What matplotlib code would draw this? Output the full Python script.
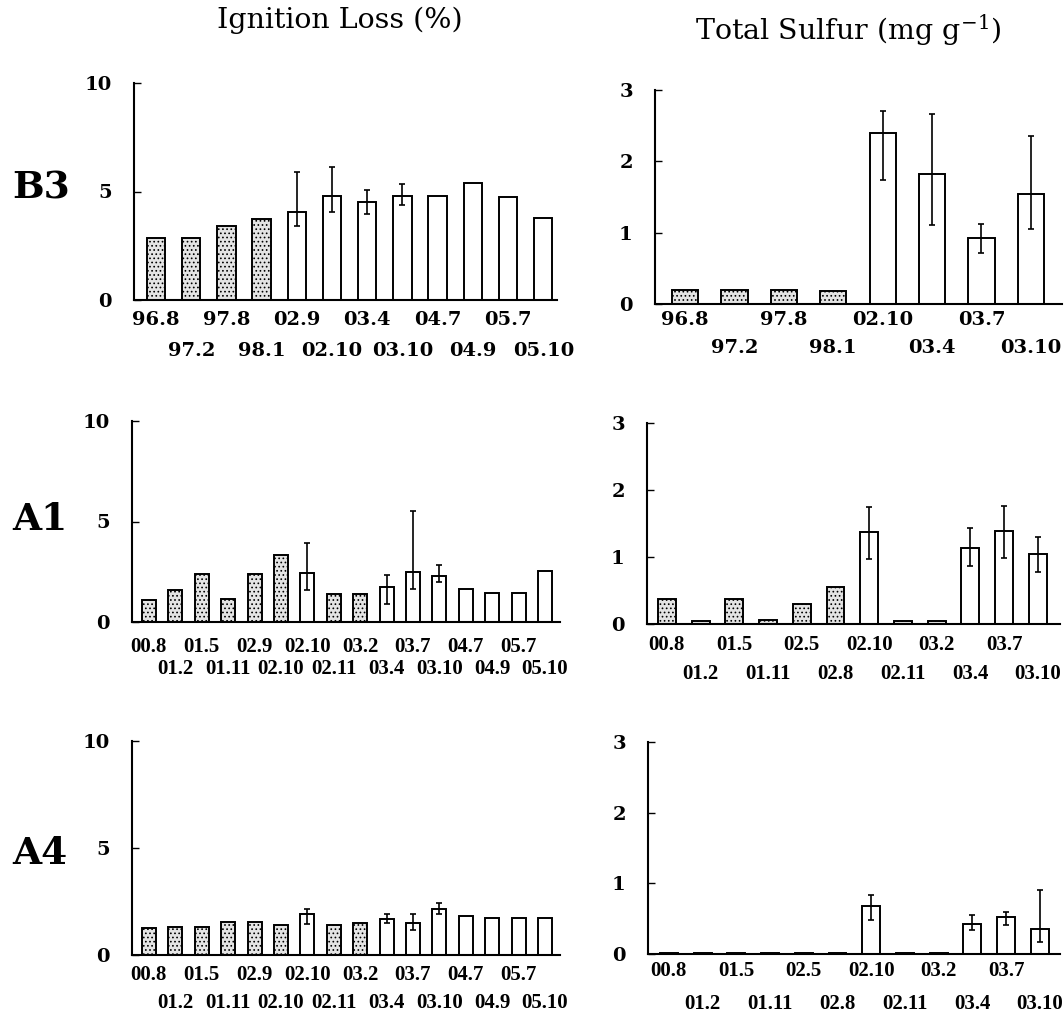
import numpy as np
import matplotlib
matplotlib.use('Agg')
import matplotlib.pyplot as plt
from matplotlib.ticker import FixedLocator, FixedFormatter

nan = np.nan

# ---------------- data ----------------
# B3 - Ignition loss (%)
b3_ign_labels = ['96.8', '97.2', '97.8', '98.1', '02.9', '02.10', '03.4', '03.10',
                 '04.7', '04.9', '05.7', '05.10']
b3_ign_values = [2.85, 2.85, 3.4, 3.75, 4.05, 4.77, 4.5, 4.77, 4.8, 5.4, 4.74, 3.8]
b3_ign_err_lo = [nan, nan, nan, nan, 3.4, 4.05, 3.97, 4.4, nan, nan, nan, nan]
b3_ign_err_hi = [nan, nan, nan, nan, 5.9, 6.15, 5.08, 5.34, nan, nan, nan, nan]
b3_ign_dotted = [1, 1, 1, 1, 0, 0, 0, 0, 0, 0, 0, 0]

# B3 - Total sulfur (mg/g)
b3_sul_labels = ['96.8', '97.2', '97.8', '98.1', '02.10', '03.4', '03.7', '03.10']
b3_sul_values = [0.19, 0.19, 0.19, 0.18, 2.40, 1.82, 0.93, 1.54]
b3_sul_err_lo = [nan, nan, nan, nan, 1.74, 1.11, 0.72, 1.05]
b3_sul_err_hi = [nan, nan, nan, nan, 2.70, 2.66, 1.12, 2.35]
b3_sul_dotted = [1, 1, 1, 1, 0, 0, 0, 0]

# A1 - Ignition loss (%)
a_ign_labels = ['00.8', '01.2', '01.5', '01.11', '02.9', '02.10', '02.10', '02.11',
                '03.2', '03.4', '03.7', '03.10', '04.7', '04.9', '05.7', '05.10']
a1_ign_values = [1.08, 1.58, 2.37, 1.16, 2.37, 3.35, 2.44, 1.38, 1.38, 1.72, 2.47, 2.27,
                 1.64, 1.46, 1.46, 2.54]
a1_ign_err_lo = [nan, nan, nan, nan, nan, nan, 1.61, nan, nan, 0.91, 1.64, 1.99,
                 nan, nan, nan, nan]
a1_ign_err_hi = [nan, nan, nan, nan, nan, nan, 3.93, nan, nan, 2.32, 5.5, 2.85,
                 nan, nan, nan, nan]
a_ign_dotted = [1, 1, 1, 1, 1, 1, 0, 1, 1, 0, 0, 0, 0, 0, 0, 0]

# A1 - Total sulfur (mg/g)
a_sul_labels = ['00.8', '01.2', '01.5', '01.11', '02.5', '02.8', '02.10', '02.11',
                '03.2', '03.4', '03.7', '03.10']
a1_sul_values = [0.37, 0.05, 0.37, 0.06, 0.30, 0.55, 1.37, 0.05, 0.05, 1.14, 1.39, 1.05]
a1_sul_err_lo = [nan, nan, nan, nan, nan, nan, 0.97, nan, nan, 0.87, 0.98, 0.77]
a1_sul_err_hi = [nan, nan, nan, nan, nan, nan, 1.74, nan, nan, 1.44, 1.76, 1.30]
a_sul_dotted = [1, 1, 1, 1, 1, 1, 0, 1, 1, 0, 0, 0]

# A4 - Ignition loss (%)
a4_ign_values = [1.24, 1.32, 1.32, 1.52, 1.52, 1.40, 1.91, 1.40, 1.51, 1.66, 1.48, 2.13,
                 1.82, 1.71, 1.71, 1.71]
a4_ign_err_lo = [nan, nan, nan, nan, nan, nan, 1.43, nan, nan, 1.51, 1.17, 1.90,
                 nan, nan, nan, nan]
a4_ign_err_hi = [nan, nan, nan, nan, nan, nan, 2.16, nan, nan, 1.90, 1.90, 2.41,
                 nan, nan, nan, nan]

# A4 - Total sulfur (mg/g)
a4_sul_values = [0.01, 0.01, 0.01, 0.02, 0.02, 0.02, 0.68, 0.01, 0.02, 0.42, 0.52, 0.35]
a4_sul_err_lo = [nan, nan, nan, nan, nan, nan, 0.48, nan, nan, 0.34, 0.41, 0.17]
a4_sul_err_hi = [nan, nan, nan, nan, nan, nan, 0.84, nan, nan, 0.55, 0.60, 0.90]

row_labels = ['B3', 'A1', 'A4']
col_titles = ['Ignition Loss (%)', 'Total Sulfur (mg g$^{\\mathregular{-1}}$)']

# ---------------- style ----------------
plt.rcParams['font.family'] = ['DejaVu Serif']
plt.rcParams['hatch.color'] = '#555555'
plt.rcParams['hatch.linewidth'] = 0.7
plt.rcParams['mathtext.fontset'] = 'dejavuserif'

W, H = 1064, 1019
fig = plt.figure(figsize=(W / 100, H / 100), dpi=100)


def add_ax(left, top, right, bottom):
    return fig.add_axes([left / W, 1 - bottom / H, (right - left) / W, (bottom - top) / H])


def draw(ax, labels, values, lo, hi, dotted, ymax, yticks, xlim, width, fs, pads,
         xfamily='DejaVu Serif'):
    n = len(values)
    x = np.arange(n)
    for i in range(n):
        if dotted[i]:
            ax.bar(x[i], values[i], width, color='#e4e4e4', edgecolor='black',
                   linewidth=1.4, hatch='....', zorder=2)
        else:
            ax.bar(x[i], values[i], width, color='white', edgecolor='black',
                   linewidth=1.4, zorder=2)
    vals = np.array(values)
    lo = np.array(lo)
    hi = np.array(hi)
    m = ~np.isnan(lo)
    ax.errorbar(x[m], vals[m], yerr=[vals[m] - lo[m], hi[m] - vals[m]], fmt='none',
                ecolor='black', elinewidth=1.2, capsize=2.5, capthick=1.2, zorder=3)
    ax.set_xlim(*xlim)
    ax.set_ylim(0, ymax)
    ax.set_yticks(yticks)
    ax.set_yticklabels([str(t) for t in yticks], fontsize=14, fontweight='bold')
    ax.tick_params(axis='y', direction='in', length=5, width=1.0, pad=16)
    for s in ['top', 'right']:
        ax.spines[s].set_visible(False)
    for s in ['left', 'bottom']:
        ax.spines[s].set_linewidth(1.5)
    even = x[::2]
    odd = x[1::2]
    ax.xaxis.set_major_locator(FixedLocator(even))
    ax.xaxis.set_major_formatter(FixedFormatter([labels[i] for i in even]))
    ax.xaxis.set_minor_locator(FixedLocator(odd))
    ax.xaxis.set_minor_formatter(FixedFormatter([labels[i] for i in odd]))
    ax.tick_params(axis='x', which='major', length=0, pad=pads[0], labelsize=fs)
    ax.tick_params(axis='x', which='minor', length=0, pad=pads[1], labelsize=fs)
    for t in ax.get_xticklabels(which='both'):
        t.set_fontweight('bold')
        t.set_family(xfamily)


# B3
ax = add_ax(134, 83, 557, 300)
draw(ax, b3_ign_labels, b3_ign_values, b3_ign_err_lo, b3_ign_err_hi, b3_ign_dotted,
     10, [0, 5, 10], (-0.625, 11.39), 0.52, 14, (8, 30))
ax = add_ax(655, 90, 1062, 304)
draw(ax, b3_sul_labels, b3_sul_values, b3_sul_err_lo, b3_sul_err_hi, b3_sul_dotted,
     3, [0, 1, 2, 3], (-0.61, 7.63), 0.53, 14, (5, 25))

# A1
ax = add_ax(132, 421, 560, 622)
draw(ax, a_ign_labels, a1_ign_values, a1_ign_err_lo, a1_ign_err_hi, a_ign_dotted,
     10, [0, 5, 10], (-0.64, 15.57), 0.53, 15, (11, 27), 'Liberation Serif')
ax = add_ax(647, 423, 1060, 624)
draw(ax, a_sul_labels, a1_sul_values, a1_sul_err_lo, a1_sul_err_hi, a_sul_dotted,
     3, [0, 1, 2, 3], (-0.59, 11.66), 0.53, 15, (8, 29), 'Liberation Serif')

# A4
ax = add_ax(132, 741, 560, 955)
draw(ax, a_ign_labels, a4_ign_values, a4_ign_err_lo, a4_ign_err_hi, a_ign_dotted,
     10, [0, 5, 10], (-0.64, 15.57), 0.53, 15, (7, 27), 'Liberation Serif')
ax = add_ax(648, 742, 1060, 954)
draw(ax, a_sul_labels, a4_sul_values, a4_sul_err_lo, a4_sul_err_hi, a_sul_dotted,
     3, [0, 1, 2, 3], (-0.62, 11.6), 0.53, 15, (5, 29), 'Liberation Serif')

# titles and row labels
fig.text(340 / W, 1 - 20 / H, col_titles[0], ha='center', va='center', fontsize=20.5)
fig.text(848 / W, 1 - 30 / H, col_titles[1], ha='center', va='center', fontsize=20.5)
for lab, yc in zip(row_labels, [188, 520, 853]):
    fig.text(12 / W, 1 - yc / H, lab, ha='left', va='center', fontsize=27,
             fontweight='bold')

fig.savefig('out.png', dpi=100)
